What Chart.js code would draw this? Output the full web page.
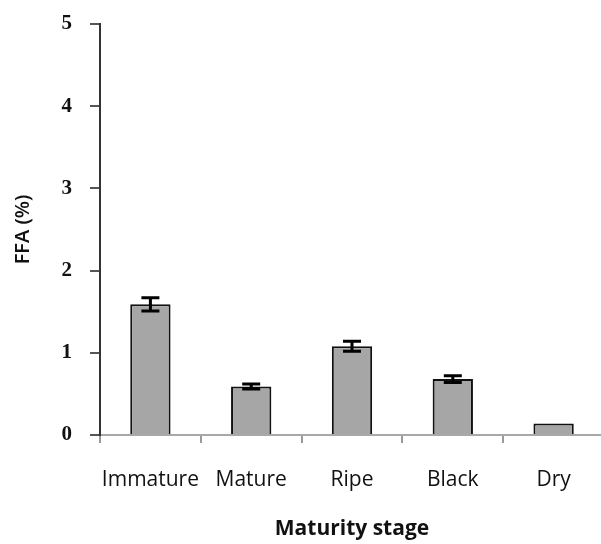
<!DOCTYPE html>
<html>
<head>
<meta charset="utf-8">
<script src="https://cdn.jsdelivr.net/npm/chart.js@4.4.1/dist/chart.umd.min.js"></script>
<style>
  html, body { margin: 0; padding: 0; background: #ffffff; overflow: hidden; }
  #wrap { width: 604px; height: 544px; }
</style>
</head>
<body>
<div id="wrap"><canvas id="c" width="604" height="544"></canvas></div>
<script>
// Free fatty acid content by olive maturity stage
const stages = ['Immature', 'Mature', 'Ripe', 'Black', 'Dry'];
const ffaMean = [1.59, 0.59, 1.08, 0.68, 0.14];
const ffaError = [0.08, 0.03, 0.06, 0.04, 0];
const yTicks = [0, 1, 2, 3, 4, 5];

// Draws mean ± error whiskers with flat caps over each bar
const errorBars = {
  id: 'errorBars',
  afterDatasetsDraw(chart) {
    const meta = chart.getDatasetMeta(0);
    const y = chart.scales.y;
    const ctx = chart.ctx;
    ctx.save();
    ctx.strokeStyle = '#000000';
    ctx.lineWidth = 3;
    meta.data.forEach((bar, i) => {
      const e = ffaError[i];
      if (!e) return;
      const top = y.getPixelForValue(ffaMean[i] + e);
      const bot = y.getPixelForValue(ffaMean[i] - e);
      const cx = bar.x;
      const half = 9;
      ctx.beginPath();
      ctx.moveTo(cx, top); ctx.lineTo(cx, bot);
      ctx.moveTo(cx - half, top); ctx.lineTo(cx + half, top);
      ctx.moveTo(cx - half, bot); ctx.lineTo(cx + half, bot);
      ctx.stroke();
    });
    ctx.restore();
  }
};

new Chart(document.getElementById('c'), {
  type: 'bar',
  data: {
    labels: stages,
    datasets: [{
      data: ffaMean,
      backgroundColor: '#a6a6a6',
      borderColor: '#111111',
      borderWidth: 2,
      borderSkipped: 'bottom',
      barPercentage: 0.4,
      categoryPercentage: 1.0
    }]
  },
  options: {
    responsive: false,
    animation: false,
    layout: { padding: { top: 24, right: 0, bottom: 0, left: 0 } },
    plugins: { legend: { display: false }, tooltip: { enabled: false } },
    scales: {
      x: {
        offset: true,
        grid: { offset: true, drawOnChartArea: false, tickLength: 8, color: '#9a9a9a', lineWidth: 2 },
        border: { color: '#a8a8a8', width: 2 },
        ticks: { color: '#111111', padding: 24, maxRotation: 0, autoSkip: false,
                 font: { family: 'Open Sans', size: 21 } },
        title: { display: true, text: 'Maturity stage', color: '#111111',
                 font: { family: 'Open Sans', size: 21, weight: 'bold' }, padding: { top: 12, bottom: 2 } },
        afterFit(s) { s.height = 109; }
      },
      y: {
        min: 0, max: 5,
        afterBuildTicks(s) { s.ticks = yTicks.map(v => ({ value: v })); },
        grid: { drawOnChartArea: false, tickLength: 10, color: '#555555', lineWidth: 2 },
        border: { color: '#333333', width: 2 },
        ticks: { color: '#111111', padding: 18,
                 font: { family: 'Liberation Serif', size: 21, weight: 'bold', lineHeight: 1 } },
        title: { display: true, text: 'FFA (%)', color: '#111111',
                 font: { family: 'Open Sans', size: 20, weight: '600' }, padding: { top: 11, bottom: 0 } },
        afterFit(s) {
          s.width = 100;
          s.paddingTop = 0;
          s.paddingBottom = 0;
        }
      }
    }
  },
  plugins: [errorBars]
});
</script>
</body>
</html>
